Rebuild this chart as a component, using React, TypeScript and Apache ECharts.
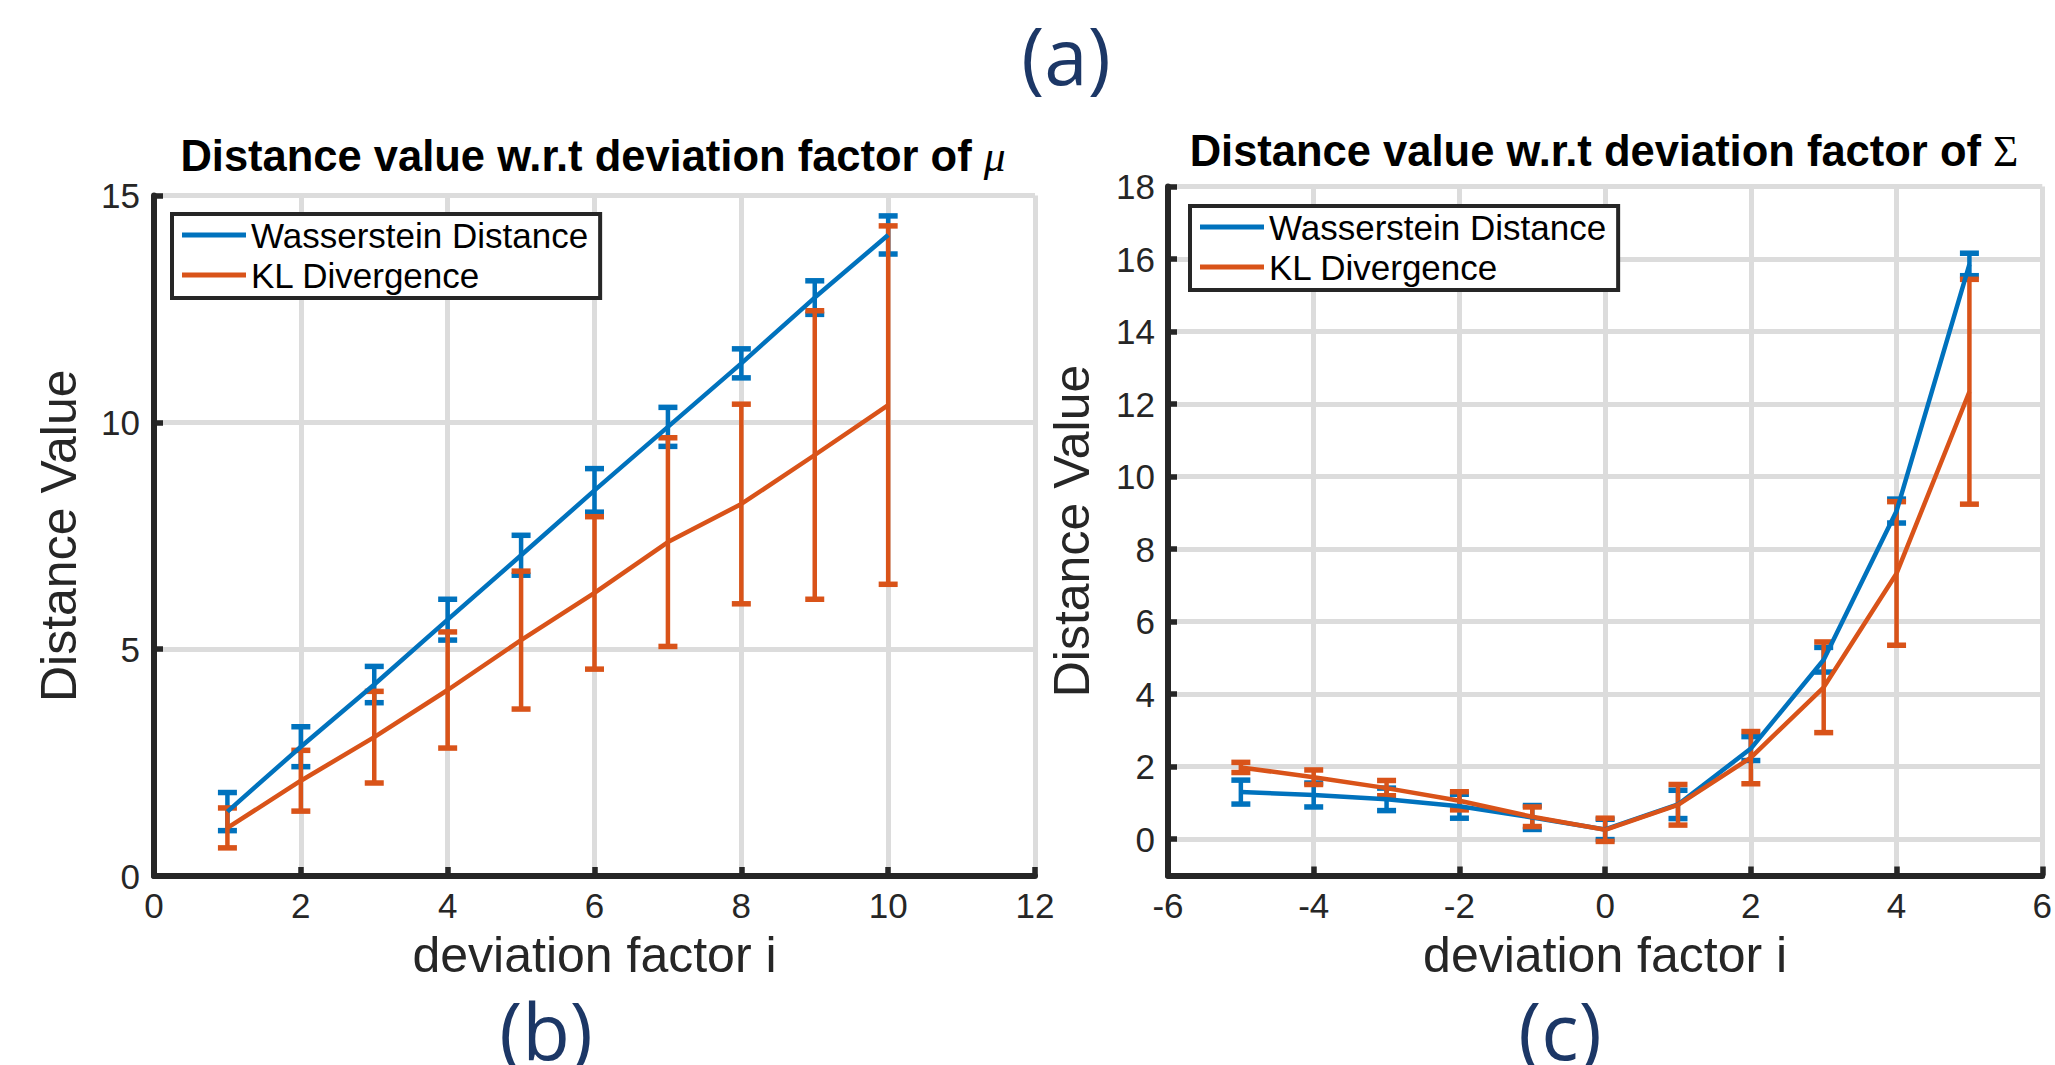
import React, { useEffect, useRef } from 'react';
import * as echarts from 'echarts';

const BLUE = '#0072BD';
const ORANGE = '#D95319';
const AXIS = '#262626';
const GRID = '#dcdcdc';
const NAVY = '#1c3766';

// Panel (b): deviation factor of mu
const xMu = [1, 2, 3, 4, 5, 6, 7, 8, 9, 10];
const wassMu = [1.42, 2.85, 4.22, 5.65, 7.07, 8.5, 9.9, 11.3, 12.75, 14.13];
const wassMuErr = [0.42, 0.44, 0.4, 0.45, 0.44, 0.48, 0.43, 0.32, 0.37, 0.42];
const klMu = [1.06, 2.1, 3.06, 4.1, 5.2, 6.24, 7.36, 8.2, 9.28, 10.38];
const klMuErr = [0.44, 0.67, 1.01, 1.28, 1.52, 1.68, 2.3, 2.2, 3.18, 3.95];

// Panel (c): deviation factor of Sigma
const xSig = [-5, -4, -3, -2, -1, 0, 1, 2, 3, 4, 5];
const wassSig = [1.3, 1.22, 1.1, 0.91, 0.6, 0.27, 0.96, 2.5, 4.95, 9.05, 15.85];
const wassSigErr = [0.33, 0.33, 0.31, 0.33, 0.33, 0.28, 0.39, 0.33, 0.34, 0.33, 0.31];
const klSig = [1.98, 1.71, 1.41, 1.06, 0.62, 0.26, 0.95, 2.25, 4.19, 7.33, 12.34];
const klSigErr = [0.14, 0.2, 0.21, 0.25, 0.27, 0.32, 0.56, 0.72, 1.25, 1.98, 3.1];

const xTicksMu = [0, 12, 2];
const yTicksMu = [0, 15, 5];
const xTicksSig = [-6, 6, 2];
const yRangeSig = [-1, 18];
const yTickValuesSig = [0, 2, 4, 6, 8, 10, 12, 14, 16, 18];

const legendNames = ['Wasserstein Distance', 'KL Divergence'];
const titleText = 'Distance value w.r.t deviation factor of ';
const xName = 'deviation factor i';
const yName = 'Distance Value';

const SANS = 'Liberation Sans, Arial, Helvetica, sans-serif';

function errorBars(color: string, xs: number[], ys: number[], errs: number[], g: number) {
  return {
    type: 'custom',
    xAxisIndex: g,
    yAxisIndex: g,
    silent: true,
    clip: false,
    encode: { x: 0, y: 1 },
    data: xs.map((x, i) => [x, ys[i], errs[i]]),
    renderItem: (params: any, api: any) => {
      const x = api.value(0);
      const y = api.value(1);
      const e = api.value(2);
      const top = api.coord([x, y + e]);
      const bot = api.coord([x, y - e]);
      const hw = 9.5;
      return {
        type: 'group',
        children: [
          { type: 'line', shape: { x1: top[0], y1: top[1], x2: bot[0], y2: bot[1] }, style: { stroke: color, lineWidth: 4.5 } },
          { type: 'line', shape: { x1: top[0] - hw, y1: top[1], x2: top[0] + hw, y2: top[1] }, style: { stroke: color, lineWidth: 5.5 } },
          { type: 'line', shape: { x1: bot[0] - hw, y1: bot[1], x2: bot[0] + hw, y2: bot[1] }, style: { stroke: color, lineWidth: 5.5 } },
        ],
      };
    },
  };
}

function lineSeries(name: string, color: string, xs: number[], ys: number[], g: number) {
  return {
    type: 'line',
    name,
    xAxisIndex: g,
    yAxisIndex: g,
    color,
    showSymbol: false,
    symbol: 'none',
    lineStyle: { color, width: 4.5 },
    itemStyle: { color },
    data: xs.map((x, i) => [x, ys[i]]),
  };
}

const axisCommon = {
  type: 'value',
  axisLine: { show: true, onZero: false, lineStyle: { color: AXIS, width: 6 } },
  axisTick: { show: true, inside: true, length: 9, lineStyle: { color: AXIS, width: 5.5 } },
  splitLine: { show: true, lineStyle: { color: GRID, width: 5 } },
  nameLocation: 'middle',
  nameTextStyle: { fontSize: 50, fontFamily: SANS, color: AXIS },
};

function legend(left: number, top: number) {
  return {
    left,
    top,
    orient: 'vertical',
    data: legendNames,
    icon: 'rect',
    itemWidth: 64,
    itemHeight: 5,
    itemGap: 4,
    padding: [3, 12, 5, 10],
    borderColor: AXIS,
    borderWidth: 4,
    borderRadius: 0,
    backgroundColor: '#ffffff',
    selectedMode: false,
    textStyle: { fontSize: 35, fontFamily: SANS, color: '#000', lineHeight: 36 },
  };
}

export default function App() {
  const ref = useRef<HTMLDivElement>(null);
  useEffect(() => {
    if (!ref.current) return;
    const chart = echarts.init(ref.current, null, { renderer: 'svg' });
    const option: any = {
      animation: false,
      backgroundColor: '#ffffff',
      grid: [
        { left: 154, top: 195.5, width: 881, height: 680.5 },
        { left: 1168, top: 186.5, width: 886, height: 689 },
      ],
      xAxis: [
        {
          ...axisCommon,
          gridIndex: 0,
          min: xTicksMu[0],
          max: xTicksMu[1],
          interval: xTicksMu[2],
          name: xName,
          nameGap: 54,
          axisLabel: { fontSize: 35, fontFamily: SANS, color: AXIS, margin: 12 },
        },
        {
          ...axisCommon,
          gridIndex: 1,
          min: xTicksSig[0],
          max: xTicksSig[1],
          interval: xTicksSig[2],
          name: xName,
          nameGap: 54,
          axisLabel: { fontSize: 35, fontFamily: SANS, color: AXIS, margin: 12 },
        },
      ],
      yAxis: [
        {
          ...axisCommon,
          gridIndex: 0,
          min: yTicksMu[0],
          max: yTicksMu[1],
          interval: yTicksMu[2],
          name: yName,
          nameGap: 70,
          axisLabel: { fontSize: 35, fontFamily: SANS, color: AXIS, margin: 14 },
        },
        {
          ...axisCommon,
          gridIndex: 1,
          min: yRangeSig[0],
          max: yRangeSig[1],
          name: yName,
          nameGap: 71,
          axisTick: { ...axisCommon.axisTick, customValues: yTickValuesSig },
          axisLabel: { fontSize: 35, fontFamily: SANS, color: AXIS, margin: 13, customValues: yTickValuesSig },
        },
      ],
      legend: [legend(172, 214), legend(1190, 206)],
      series: [
        errorBars(BLUE, xMu, wassMu, wassMuErr, 0),
        lineSeries(legendNames[0], BLUE, xMu, wassMu, 0),
        errorBars(ORANGE, xMu, klMu, klMuErr, 0),
        lineSeries(legendNames[1], ORANGE, xMu, klMu, 0),
        errorBars(BLUE, xSig, wassSig, wassSigErr, 1),
        lineSeries(legendNames[0], BLUE, xSig, wassSig, 1),
        errorBars(ORANGE, xSig, klSig, klSigErr, 1),
        lineSeries(legendNames[1], ORANGE, xSig, klSig, 1),
      ],
      graphic: [
        {
          type: 'text',
          x: 593,
          y: 156,
          style: {
            text: '{b|' + titleText + '}{m|μ}',
            align: 'center',
            verticalAlign: 'middle',
            rich: {
              b: { fontFamily: SANS, fontWeight: 'bold', fontSize: 43.5, fill: '#000' },
              m: { fontFamily: 'Liberation Serif, serif', fontStyle: 'italic', fontSize: 43.5, fill: '#000' },
            },
          },
        },
        {
          type: 'text',
          x: 1604,
          y: 151,
          style: {
            text: '{b|' + titleText + '}{m|Σ}',
            align: 'center',
            verticalAlign: 'middle',
            rich: {
              b: { fontFamily: SANS, fontWeight: 'bold', fontSize: 43.5, fill: '#000' },
              m: { fontFamily: 'Liberation Serif, serif', fontSize: 43.5, fill: '#000' },
            },
          },
        },
        {
          type: 'text',
          x: 1066,
          y: 55,
          style: { text: '(a)', font: '78px "Open Sans", sans-serif', fill: NAVY, align: 'center', verticalAlign: 'middle' },
        },
        {
          type: 'text',
          x: 546,
          y: 1030,
          style: { text: '(b)', font: '78px "Open Sans", sans-serif', fill: NAVY, align: 'center', verticalAlign: 'middle' },
        },
        {
          type: 'text',
          x: 1560,
          y: 1030,
          style: { text: '(c)', font: '78px "Open Sans", sans-serif', fill: NAVY, align: 'center', verticalAlign: 'middle' },
        },
      ],
    };
    chart.setOption(option);
    return () => chart.dispose();
  }, []);
  return (
    <div
      ref={ref}
      style={{ position: 'fixed', left: 0, top: 0, width: 2055, height: 1065, background: '#fff' }}
    />
  );
}
